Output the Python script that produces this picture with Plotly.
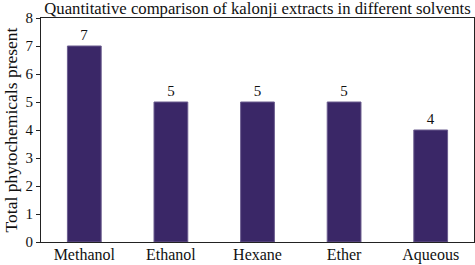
import plotly.graph_objects as go

categories = ["Methanol", "Ethanol", "Hexane", "Ether", "Aqueous"]
values = [7, 5, 5, 5, 4]
y_ticks = [0, 1, 2, 3, 4, 5, 6, 7, 8]

FONT = "Liberation Serif"
BAR = "#3a2767"

fig = go.Figure(go.Bar(
    x=categories, y=values,
    marker=dict(color=BAR, line=dict(color="#6b5d8f", width=1)),
    width=0.39,
    text=[str(v) for v in values], textposition="outside",
    textfont=dict(family=FONT, size=15, color="#111"),
    cliponaxis=False,
))

fig.update_layout(
    width=475, height=265,
    margin=dict(l=41, r=1, t=18, b=23),
    paper_bgcolor="white", plot_bgcolor="white",
    showlegend=False,
    title=dict(text="Quantitative comparison of kalonji extracts in different solvents",
               font=dict(family=FONT, size=16.7, color="#111"),
               x=(41 + 474) / 2 / 475, xanchor="center", y=1 - 8 / 265, yanchor="middle"),
    xaxis=dict(showline=True, linecolor="#222", linewidth=1, mirror=True,
               ticks="", tickfont=dict(family=FONT, size=16, color="#111"),
               ticklabelstandoff=-2,
               showgrid=False, automargin=False),
    yaxis=dict(range=[0, 8], tickvals=y_ticks, showline=True, linecolor="#222", linewidth=1,
               mirror=True, ticks="outside", ticklen=4, tickcolor="#222",
               tickfont=dict(family=FONT, size=15, color="#111"),
               showgrid=False, zeroline=False, automargin=False,
               title=dict(text="Total phytochemicals present",
                          font=dict(family=FONT, size=17.5, color="#111"), standoff=3)),
    bargap=0.61,
)

fig.write_html("out.html", config={"displayModeBar": False},
               post_script="document.body.style.margin='0';")
